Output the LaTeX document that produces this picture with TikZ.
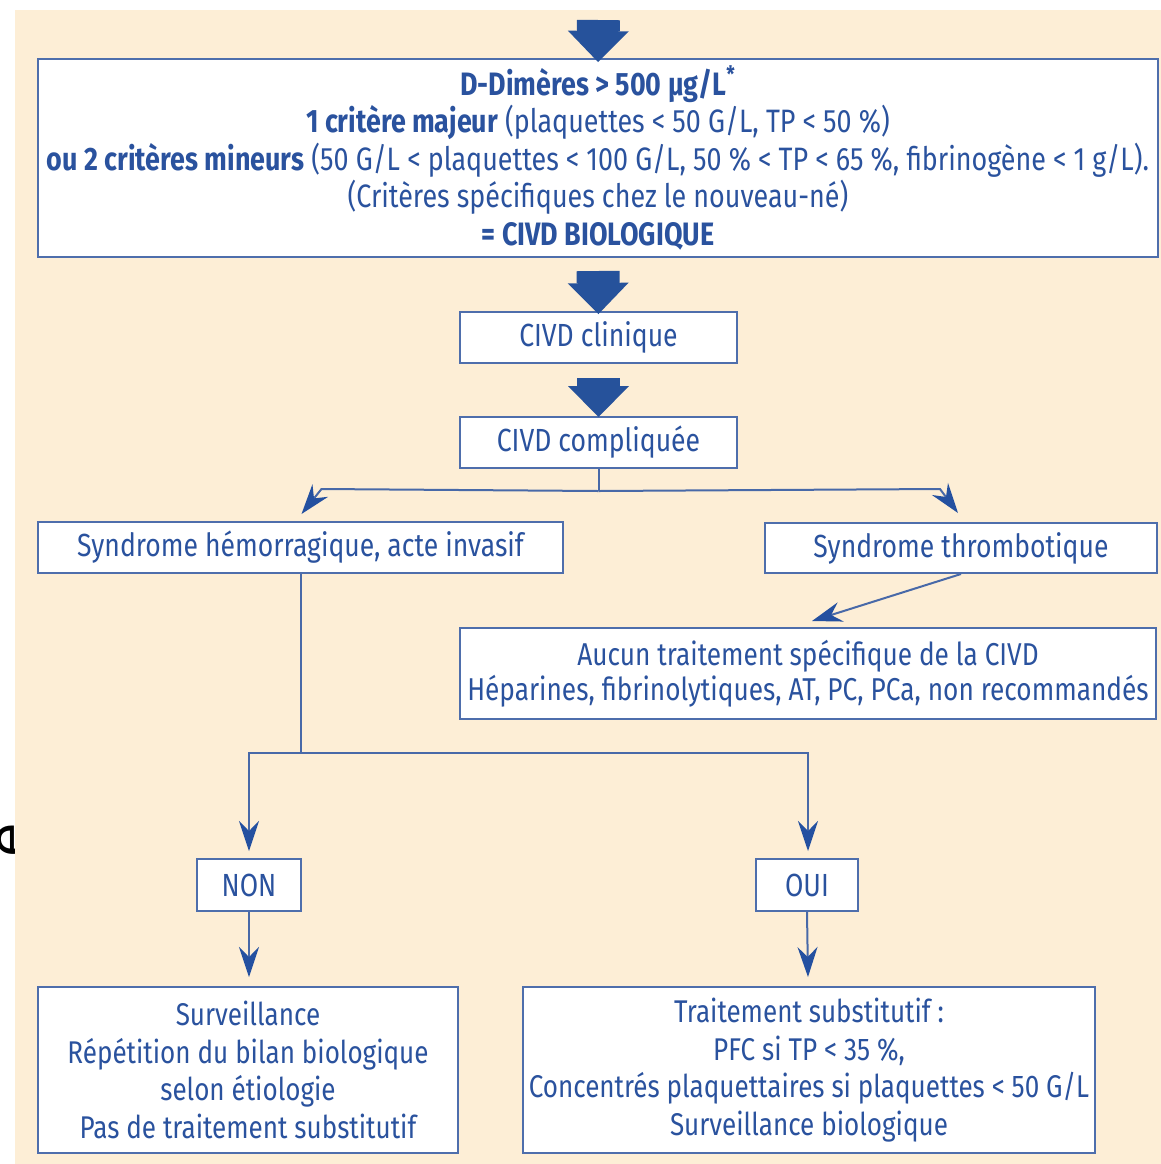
\documentclass[tikz,border=0pt]{standalone}
\usepackage{fontspec}
\setmainfont{Fira Sans}[FakeStretch=0.83]
\newfontfamily\efont{DejaVu Sans}
\usetikzlibrary{arrows.meta,calc}
\definecolor{bgc}{RGB}{253,238,214}
\definecolor{txtblue}{RGB}{42,82,158}
\definecolor{boxblue}{RGB}{78,110,172}
\definecolor{blockblue}{RGB}{38,82,155}
\definecolor{lineblue}{RGB}{72,105,168}
\definecolor{headblue}{RGB}{36,80,160}
\tikzset{
  box/.style={draw=boxblue, line width=1pt, fill=white, inner sep=0pt, align=center, text=txtblue},
  fmid/.style={font=\fontsize{16}{18.75}\selectfont},
  ftop/.style={font=\fontsize{16.2}{18.75}\selectfont},
  fauc/.style={font=\fontsize{15.8}{17.8}\selectfont},
  fbot/.style={font=\fontsize{15.7}{18.9}\selectfont},
  bigarrow/.style={draw=blockblue, line width=21.5pt, line cap=butt,
    -{Triangle[length=15.5pt,width=30.5pt,line width=0pt,color=blockblue]}},
  linkline/.style={draw=lineblue, line width=1pt},
  arr/.style={draw=lineblue, line width=1pt,
    -{Stealth[length=15pt,width=10pt,inset=5pt,color=headblue]}}
}
\begin{document}
\begin{tikzpicture}[x=0.5pt,y=-0.5pt]
\useasboundingbox (0,0) rectangle (1161,1164);
% stray letter at the left edge
\node[inner sep=0pt, rotate=90, font=\efont\fontsize{28}{30}\selectfont] (stray) at (13,840) {e};
\fill[bgc] (15,10) rectangle (1161,1164);

\node[box, ftop, minimum width=560pt, minimum height=99pt] (top) at (598,158)
 {{\bfseries D-Dimères > 500 µg/L\textsuperscript{*}}\\
  {\bfseries 1 critère majeur} (plaquettes < 50 G/L, TP < 50 \%)\\
  {\bfseries ou 2 critères mineurs} (50 G/L < plaquettes < 100 G/L, 50 \% < TP < 65 \%, fibrinogène < 1 g/L).\\
  (Critères spécifiques chez le nouveau-né)\\
  {\bfseries = CIVD BIOLOGIQUE}};
\node[box, fmid, minimum width=138.5pt, minimum height=25.5pt] (clin) at (598.5,337.5) {CIVD clinique};
\node[box, fmid, minimum width=138.5pt, minimum height=25.5pt] (comp) at (598.5,442.5) {CIVD compliquée};
\node[box, fmid, minimum width=262.5pt, minimum height=25.5pt] (hemo) at (300.5,547.5) {Syndrome hémorragique, acte invasif};
\node[box, fmid, minimum width=196pt, minimum height=25pt] (thromb) at (961,548) {Syndrome thrombotique};
\node[box, fauc, minimum width=348pt, minimum height=45.5pt] (aucun) at (808,673.5)
 {\rule{0pt}{12pt}Aucun traitement spécifique de la CIVD\\Héparines, fibrinolytiques, AT, PC, PCa, non recommandés};
\node[box, fmid, minimum width=52pt, minimum height=26pt] (non) at (249,885) {NON};
\node[box, fmid, minimum width=51pt, minimum height=26pt] (oui) at (807,885) {OUI};
\node[box, fbot, minimum width=210pt, minimum height=83pt] (surv) at (248,1070)
 {Surveillance\\Répétition du bilan biologique\\selon étiologie\\Pas de traitement substitutif};
\node[box, fbot, minimum width=286pt, minimum height=83pt] (trait) at (809,1070)
 {Traitement substitutif :\\PFC si TP < 35 \%,\\Concentrés plaquettaires si plaquettes < 50 G/L\\Surveillance biologique};

% block arrows
\coordinate (a0) at (598.5,20);
\draw[bigarrow] (a0) -- ($(top.north)+(0,4)$);
\draw[bigarrow] ($(top.south)+(0,13)$) -- ($(clin.north)+(0,3)$);
\draw[bigarrow] ($(clin.south)+(0,14)$) -- ($(comp.north)+(0,1)$);

% split after CIVD compliquee
\draw[linkline] (comp.south) -- ++(0,22) coordinate (j1);
\draw[arr] (j1) -- ($(hemo.north)+(21,-32)$) -- ($(hemo.north)+(1,-7)$);
\draw[arr] (j1) -- ($(thromb.north)+(-21,-33)$) -- ($(thromb.north)+(-3,-9)$);
\draw[arr] (thromb.south) -- ($(aucun.north)+(4,-6)$);

% hemorrhagic branch
\draw[linkline] (hemo.south) -- ++(0,179) coordinate (j2);
\draw[arr] (j2) -| ($(non.north)+(0,-7)$);
\draw[arr] (j2) -| ($(oui.north)+(1,-7)$);
\draw[arr] (non.south) -- ($(non.south |- surv.north)+(0,-9)$);
\draw[arr] (oui.south) -- ($(oui.south |- trait.north)+(1,-9)$);
\end{tikzpicture}
\end{document}
